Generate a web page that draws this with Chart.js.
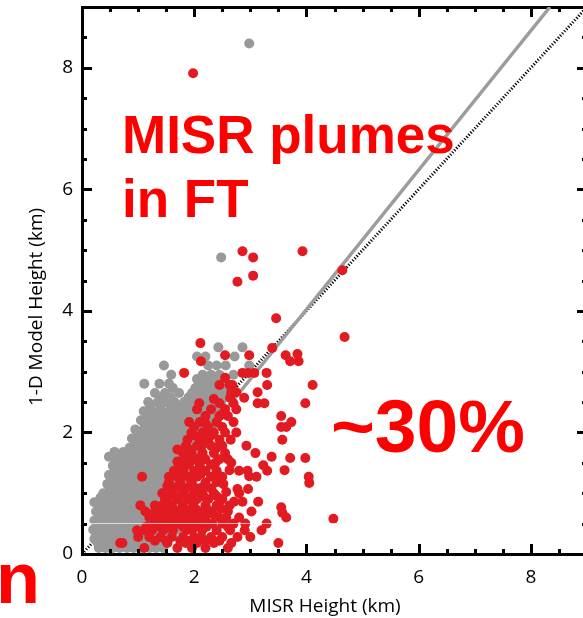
<!DOCTYPE html>
<html>
<head>
<meta charset="utf-8">
<script src="https://cdn.jsdelivr.net/npm/chart.js@4.4.1/dist/chart.umd.min.js"></script>
<style>
  html, body { margin: 0; padding: 0; background: #fff; overflow: hidden; }
  #wrap { position: absolute; left: 0; top: 0; width: 600px; height: 618px; }
</style>
</head>
<body>
<div id="wrap"><canvas id="chart" width="600" height="618"></canvas></div>
<script>
const majorTicks = [0, 2, 4, 6, 8];
const axisMax = 9;
const xTitle = "MISR Height (km)";
const yTitle = "1-D Model Height (km)";

// [MISR height, model height] in km
const grayPoints = [
  [0.3,0.1],[0.42,0.1],[0.55,0.1],[0.67,0.1],[0.8,0.1],[0.92,0.1],[1.05,0.1],[1.2,0.1],[1.32,0.1],[1.45,0.1],
  [0.28,0.18],[0.4,0.18],[0.52,0.18],[0.66,0.18],[0.84,0.18],[0.96,0.18],[1.1,0.18],[1.24,0.18],[1.36,0.18],
  [0.22,0.25],[0.35,0.25],[0.48,0.25],[0.6,0.25],[0.78,0.25],[0.9,0.25],[1.02,0.25],[1.15,0.25],[1.3,0.25],[1.42,0.25],[1.55,0.25],
  [0.26,0.33],[0.4,0.33],[0.54,0.33],[0.66,0.33],[0.8,0.33],[0.94,0.33],[1.06,0.33],[1.2,0.33],[1.34,0.33],[1.48,0.33],[1.62,0.33],
  [0.2,0.4],[0.32,0.4],[0.45,0.4],[0.58,0.4],[0.7,0.4],[0.85,0.4],[0.98,0.4],[1.1,0.4],[1.25,0.4],[1.4,0.4],[1.55,0.4],[1.7,0.4],
  [0.28,0.48],[0.42,0.48],[0.56,0.48],[0.68,0.48],[0.82,0.48],[0.94,0.48],[1.08,0.48],[1.22,0.48],[1.36,0.48],[1.52,0.48],[1.68,0.48],
  [0.22,0.55],[0.35,0.55],[0.5,0.55],[0.62,0.55],[0.75,0.55],[0.88,0.55],[1.0,0.55],[1.15,0.55],[1.3,0.55],[1.45,0.55],[1.62,0.55],[1.78,0.55],
  [0.3,0.63],[0.44,0.63],[0.57,0.63],[0.7,0.63],[0.84,0.63],[0.97,0.63],[1.12,0.63],[1.26,0.63],[1.4,0.63],[1.56,0.63],[1.72,0.63],
  [0.25,0.7],[0.38,0.7],[0.52,0.7],[0.65,0.7],[0.78,0.7],[0.92,0.7],[1.05,0.7],[1.2,0.7],[1.35,0.7],[1.5,0.7],[1.65,0.7],
  [0.32,0.78],[0.46,0.78],[0.6,0.78],[0.72,0.78],[0.86,0.78],[0.99,0.78],[1.12,0.78],[1.27,0.78],[1.42,0.78],[1.56,0.78],[1.7,0.78],
  [0.22,0.85],[0.4,0.85],[0.55,0.85],[0.7,0.85],[0.85,0.85],[1.0,0.85],[1.15,0.85],[1.3,0.85],[1.45,0.85],[1.6,0.85],[1.75,0.85],
  [0.33,0.93],[0.48,0.93],[0.63,0.93],[0.78,0.93],[0.92,0.93],[1.07,0.93],[1.22,0.93],[1.38,0.93],[1.52,0.93],[1.66,0.93],
  [0.38,1.0],[0.55,1.0],[0.71,1.0],[0.82,1.0],[0.96,1.0],[1.1,1.0],[1.25,1.0],[1.4,1.0],[1.55,1.0],[1.7,1.0],
  [0.5,1.08],[0.66,1.08],[0.8,1.08],[0.94,1.08],[1.08,1.08],[1.24,1.08],[1.38,1.08],[1.52,1.08],[1.68,1.08],[1.85,1.08],
  [0.45,1.15],[0.6,1.15],[0.75,1.15],[0.88,1.15],[1.02,1.15],[1.18,1.15],[1.32,1.15],[1.48,1.15],[1.62,1.15],[1.8,1.15],
  [0.54,1.23],[0.7,1.23],[0.86,1.23],[1.02,1.23],[1.17,1.23],[1.32,1.23],[1.48,1.23],[1.64,1.23],[1.78,1.23],
  [0.48,1.3],[0.62,1.3],[0.8,1.3],[0.95,1.3],[1.1,1.3],[1.25,1.3],[1.4,1.3],[1.55,1.3],[1.7,1.3],[1.85,1.3],
  [0.6,1.38],[0.76,1.38],[0.9,1.38],[1.04,1.38],[1.2,1.38],[1.35,1.38],[1.5,1.38],[1.66,1.38],[1.82,1.38],
  [0.55,1.45],[0.7,1.45],[0.85,1.45],[0.98,1.45],[1.12,1.45],[1.28,1.45],[1.42,1.45],[1.58,1.45],[1.75,1.45],[1.9,1.45],
  [0.6,1.53],[0.76,1.53],[0.9,1.53],[1.04,1.53],[1.18,1.53],[1.34,1.53],[1.5,1.53],[1.65,1.53],[1.8,1.53],[1.96,1.53],
  [0.48,1.6],[0.65,1.6],[0.8,1.6],[0.95,1.6],[1.1,1.6],[1.25,1.6],[1.4,1.6],[1.55,1.6],[1.7,1.6],[1.88,1.6],[2.05,1.6],
  [0.58,1.68],[0.74,1.68],[0.9,1.68],[1.06,1.68],[1.2,1.68],[1.36,1.68],[1.52,1.68],[1.66,1.68],[1.82,1.68],[2.0,1.68],
  [0.85,1.75],[1.0,1.75],[1.15,1.75],[1.3,1.75],[1.45,1.75],[1.6,1.75],[1.75,1.75],[1.92,1.75],[2.1,1.75],
  [0.94,1.83],[1.08,1.83],[1.22,1.83],[1.38,1.83],[1.52,1.83],[1.68,1.83],[1.84,1.83],[2.0,1.83],[2.15,1.83],
  [0.89,1.9],[1.02,1.9],[1.15,1.9],[1.3,1.9],[1.45,1.9],[1.6,1.9],[1.75,1.9],[1.9,1.9],[2.05,1.9],[2.2,1.9],
  [1.0,1.98],[1.16,1.98],[1.32,1.98],[1.48,1.98],[1.62,1.98],[1.78,1.98],[1.94,1.98],[2.1,1.98],[2.26,1.98],
  [0.95,2.05],[1.1,2.05],[1.25,2.05],[1.4,2.05],[1.55,2.05],[1.7,2.05],[1.85,2.05],[2.0,2.05],[2.15,2.05],[2.3,2.05],
  [1.12,2.13],[1.28,2.13],[1.44,2.13],[1.58,2.13],[1.74,2.13],[1.9,2.13],[2.04,2.13],[2.2,2.13],[2.35,2.13],
  [1.05,2.2],[1.2,2.2],[1.35,2.2],[1.5,2.2],[1.65,2.2],[1.8,2.2],[1.95,2.2],[2.1,2.2],[2.25,2.2],[2.4,2.2],
  [1.18,2.28],[1.32,2.28],[1.48,2.28],[1.62,2.28],[1.78,2.28],[1.92,2.28],[2.08,2.28],[2.22,2.28],[2.4,2.28],
  [1.1,2.35],[1.25,2.35],[1.4,2.35],[1.55,2.35],[1.7,2.35],[1.85,2.35],[2.0,2.35],[2.15,2.35],[2.3,2.35],[2.5,2.35],
  [1.22,2.43],[1.4,2.43],[1.6,2.43],[1.76,2.43],[1.92,2.43],[2.08,2.43],[2.22,2.43],[2.4,2.43],
  [1.18,2.5],[1.35,2.5],[1.5,2.5],[1.65,2.5],[1.82,2.5],[1.98,2.5],[2.15,2.5],[2.3,2.5],[2.48,2.5],
  [1.42,2.58],[1.58,2.58],[1.9,2.58],[2.06,2.58],[2.2,2.58],[2.38,2.58],[2.55,2.58],
  [1.3,2.65],[1.48,2.65],[1.73,2.65],[1.96,2.65],[2.12,2.65],[2.28,2.65],[2.45,2.65],[2.62,2.65],
  [1.62,2.73],[2.02,2.73],[2.18,2.73],[2.35,2.73],[2.5,2.73],
  [1.11,2.8],[1.38,2.8],[1.55,2.8],[2.11,2.8],[2.25,2.8],[2.4,2.8],[2.55,2.8],
  [2.05,2.88],[2.2,2.88],[2.36,2.88],[2.52,2.88],
  [1.59,2.95],[2.15,2.95],[2.3,2.95],[2.45,2.95],[2.7,2.95],
  [1.46,3.1],[2.25,3.1],[2.4,3.1],[2.56,3.1],[2.98,3.1],
  [2.05,3.25],[2.2,3.25],[2.72,3.25],
  [2.43,3.4],[2.86,3.4],
  [2.48,4.88],[2.98,8.4]
];

const redPoints = [
  [1.11,0.1],[1.7,0.1],[1.96,0.1],[2.2,0.1],[2.6,0.1],
  [0.68,0.18],[0.72,0.18],[1.52,0.18],[1.85,0.18],[2.05,0.18],[2.35,0.18],[2.66,0.18],[3.5,0.18],
  [1.3,0.22],[1.5,0.22],[1.75,0.22],[1.92,0.22],[2.2,0.22],[2.45,0.22],
  [1.0,0.28],[1.2,0.28],[1.4,0.28],[1.6,0.28],[1.8,0.28],[2.0,0.28],[2.13,0.28],[2.3,0.28],[2.5,0.28],[2.77,0.28],[3.0,0.28],
  [0.98,0.39],[1.11,0.39],[1.25,0.39],[1.45,0.39],[1.62,0.39],[1.86,0.39],[1.96,0.39],[2.14,0.39],[2.4,0.39],[2.64,0.39],[2.9,0.39],[3.2,0.39],
  [1.15,0.45],[1.38,0.45],[1.58,0.45],[1.8,0.45],[2.02,0.45],[2.22,0.45],[2.6,0.45],
  [1.3,0.5],[1.5,0.5],[1.7,0.5],[1.9,0.5],[2.1,0.5],[2.32,0.5],[2.5,0.5],[2.7,0.5],[2.91,0.5],[3.29,0.5],
  [1.2,0.6],[1.42,0.6],[1.6,0.6],[1.8,0.6],[2.0,0.6],[2.2,0.6],[2.45,0.6],[2.57,0.6],[2.8,0.6],[3.64,0.6],[4.48,0.58],
  [1.32,0.65],[1.52,0.65],[1.7,0.65],[1.9,0.65],[2.12,0.65],[2.35,0.65],
  [1.13,0.7],[1.3,0.7],[1.5,0.7],[1.72,0.7],[1.9,0.7],[2.1,0.7],[2.3,0.7],[2.6,0.7],[3.02,0.7],[3.57,0.68],
  [1.4,0.75],[1.62,0.75],[1.82,0.75],[2.02,0.75],[2.22,0.75],[2.48,0.75],
  [1.04,0.8],[1.3,0.8],[1.43,0.8],[1.6,0.8],[1.8,0.8],[1.98,0.8],[2.2,0.8],[2.4,0.8],[2.63,0.8],[2.86,0.86],[3.14,0.86],[3.55,0.77],
  [1.48,0.9],[1.7,0.9],[1.9,0.9],[2.05,0.9],[2.25,0.9],[2.5,0.9],[2.71,0.86],
  [1.56,0.95],[1.76,0.95],[1.96,0.95],[2.16,0.95],[2.4,0.95],
  [1.43,1.0],[1.6,1.0],[1.8,1.0],[2.0,1.0],[2.15,1.0],[2.35,1.0],[2.57,1.02],[2.8,1.0],
  [1.65,1.08],[1.85,1.08],[2.1,1.08],[2.3,1.08],[2.77,1.07],[2.96,1.07],
  [1.52,1.12],[1.72,1.12],[1.98,1.12],[2.18,1.12],[2.52,1.15],
  [1.55,1.18],[1.75,1.18],[1.95,1.18],[2.2,1.18],[2.4,1.18],[4.05,1.17],
  [1.07,1.27],[1.55,1.27],[1.7,1.27],[1.9,1.27],[2.05,1.27],[2.3,1.27],[2.5,1.27],[2.98,1.28],[3.11,1.27],[4.04,1.27],
  [1.62,1.3],[1.82,1.3],[2.12,1.32],[2.42,1.3],
  [1.64,1.37],[1.8,1.37],[2.0,1.37],[2.2,1.37],[2.4,1.37],[2.63,1.38],[2.8,1.37],[2.95,1.37],[3.3,1.37],[3.61,1.38],
  [1.73,1.47],[1.9,1.47],[2.1,1.47],[2.3,1.47],[2.66,1.5],[3.23,1.46],
  [1.7,1.52],[1.92,1.52],[2.12,1.6],[2.38,1.5],
  [1.82,1.56],[2.0,1.56],[2.2,1.56],[2.45,1.56],[2.6,1.56],[3.71,1.58],[3.98,1.58],
  [1.8,1.66],[1.95,1.66],[2.15,1.66],[2.35,1.66],[2.55,1.66],[3.09,1.66],[3.38,1.6],
  [1.7,1.72],[1.92,1.72],[2.15,1.8],[2.4,1.75],
  [1.85,1.78],[2.05,1.78],[2.3,1.78],[2.5,1.78],[2.93,1.78],
  [1.88,1.88],[2.1,1.88],[2.25,1.88],[2.45,1.88],[2.65,1.88],[3.57,1.88],
  [2.0,1.95],[2.3,1.95],
  [1.95,2.0],[2.15,2.0],[2.35,2.0],[2.55,2.0],[2.75,2.0],
  [2.0,2.09],[2.25,2.09],[2.5,2.09],[3.55,2.09],[3.64,2.09],
  [1.91,2.17],[2.1,2.17],[2.2,2.15],[2.4,2.17],[2.7,2.17],[3.73,2.17],
  [2.2,2.27],[2.45,2.27],[2.5,2.3],[2.6,2.27],[3.55,2.27],
  [2.05,2.38],[2.3,2.38],[2.55,2.38],[2.75,2.38],
  [2.09,2.48],[2.45,2.48],[2.7,2.48],[3.13,2.48],[3.25,2.48],[3.98,2.48],
  [2.35,2.55],[2.64,2.57],[2.89,2.57],
  [2.66,2.66],[2.75,2.66],[3.13,2.66],
  [2.45,2.78],[2.63,2.78],[2.68,2.78],[3.3,2.78],[4.11,2.78],
  [2.55,2.9],[1.82,2.98],[2.86,2.98],[2.96,2.98],[3.07,2.98],[3.29,2.98],
  [2.12,3.17],[3.71,3.17],[3.86,3.17],
  [2.55,3.27],[2.98,3.27],[3.63,3.27],[3.84,3.29],
  [3.39,3.39],[2.11,3.47],[4.68,3.57],[3.46,3.88],
  [2.77,4.48],[3.05,4.58],[4.64,4.67],[3.05,4.88],[2.86,4.98],[3.93,4.98],
  [1.98,7.91]
];

const fitLine = [[0.49, 0], [8.34, 9]];
const oneToOne = [[0, 0], [9, 9]];

const toXY = (arr) => arr.map((p) => ({ x: p[0], y: p[1] }));

// inward ticks on all four sides, seam line, titles and red labels
const framePlugin = {
  id: "frame",
  afterDatasetsDraw(chart) {
    const ctx = chart.ctx;
    const xs = chart.scales.x;
    const ys = chart.scales.y;
    const L = Math.round(xs.getPixelForValue(0)), R = Math.round(xs.getPixelForValue(axisMax));
    const B = Math.round(ys.getPixelForValue(0)), T = Math.round(ys.getPixelForValue(axisMax));
    ctx.save();
    // faint seam across the scatter
    ctx.fillStyle = "rgba(255,255,255,0.65)";
    ctx.fillRect(L, Math.round(ys.getPixelForValue(0.51)), R - L, 1);

    ctx.fillStyle = "#000000";
    for (let i = 0; i <= axisMax * 2; i++) {
      const v = i / 2;
      const len = majorTicks.includes(v) ? 10 : 5;
      const px = Math.round(xs.getPixelForValue(v));
      const py = Math.round(ys.getPixelForValue(v));
      ctx.fillRect(px - 1, B - len, 3, len);
      ctx.fillRect(px - 1, T, 3, len);
      ctx.fillRect(L, py - 1, len, 3);
      ctx.fillRect(R - len, py - 1, len, 3);
    }
    ctx.restore();
  },
  afterDraw(chart) {
    const ctx = chart.ctx;
    ctx.save();
    ctx.fillStyle = "#000";
    ctx.font = '19px "Open Sans"';
    ctx.textAlign = "center";
    ctx.textBaseline = "alphabetic";
    ctx.fillText(xTitle, 325, 612);
    ctx.save();
    ctx.translate(42, 307);
    ctx.rotate(-Math.PI / 2);
    ctx.fillText(yTitle, 0, 0);
    ctx.restore();

    ctx.fillStyle = "#ff0000";
    ctx.textAlign = "left";
    ctx.font = 'bold 53px "Liberation Sans"';
    ctx.fillText("MISR plumes", 122, 153);
    ctx.fillText("in FT", 122, 217);
    ctx.font = 'bold 75px "Liberation Sans"';
    ctx.fillText("~30%", 331, 452);
    ctx.font = 'bold 72px "Liberation Sans"';
    ctx.fillText("n", -4, 603);
    ctx.restore();
  }
};

const tickFont = { family: '"Open Sans"', size: 19 };
const axisBorder = { display: true, color: "#000000", width: 3 };

// mirror axes: only their border is shown, to close the box
const mirrorAxis = (position, isX) => ({
  type: "linear",
  position: position,
  display: true,
  min: 0,
  max: axisMax,
  grid: { display: false, drawTicks: false },
  border: axisBorder,
  ticks: { display: false },
  afterFit: (s) => {
    if (isX) s.height = 0; else s.width = 0;
    s.paddingLeft = 0; s.paddingRight = 0; s.paddingTop = 0; s.paddingBottom = 0;
  }
});

new Chart(document.getElementById("chart"), {
  type: "scatter",
  data: {
    datasets: [
      {
        label: "FT plumes",
        data: toXY(redPoints),
        backgroundColor: "#e21b22",
        borderWidth: 0,
        pointRadius: 5,
        order: 0
      },
      {
        label: "BL plumes",
        data: toXY(grayPoints),
        backgroundColor: "#999999",
        borderWidth: 0,
        pointRadius: 5,
        order: 1
      },
      {
        label: "fit",
        data: toXY(fitLine),
        showLine: true,
        borderColor: "#9c9c9c",
        borderWidth: 3.5,
        pointRadius: 0,
        order: 2
      },
      {
        label: "1:1",
        data: toXY(oneToOne),
        showLine: true,
        borderColor: "#000",
        borderWidth: 3,
        borderDash: [1.2, 1.8],
        pointRadius: 0,
        order: 3
      }
    ]
  },
  options: {
    responsive: false,
    animation: false,
    layout: { padding: { top: 7, right: 13, left: 0, bottom: 0 } },
    plugins: { legend: { display: false }, tooltip: { enabled: false } },
    scales: {
      x: {
        type: "linear",
        position: "bottom",
        min: 0,
        max: axisMax,
        grid: { display: false, drawTicks: false },
        border: axisBorder,
        ticks: { color: "#000", font: tickFont, padding: 12, maxRotation: 0 },
        afterBuildTicks: (s) => { s.ticks = majorTicks.map((v) => ({ value: v })); },
        afterFit: (s) => { s.height = 64; s.paddingLeft = 0; s.paddingRight = 0; }
      },
      y: {
        type: "linear",
        position: "left",
        min: 0,
        max: axisMax,
        grid: { display: false, drawTicks: false },
        border: axisBorder,
        ticks: { color: "#000", font: tickFont, padding: 9 },
        afterBuildTicks: (s) => { s.ticks = majorTicks.map((v) => ({ value: v })); },
        afterFit: (s) => { s.width = 82; s.paddingTop = 0; s.paddingBottom = 0; }
      },
      xTop: mirrorAxis("top", true),
      yRight: mirrorAxis("right", false)
    }
  },
  plugins: [framePlugin]
});
</script>
</body>
</html>
